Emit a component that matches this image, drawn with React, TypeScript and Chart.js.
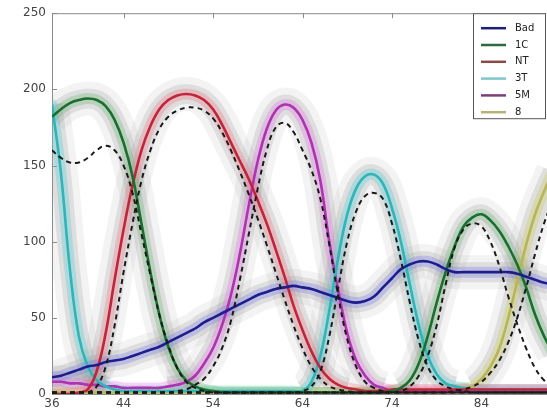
import { useEffect, useRef } from "react";
import { Chart, registerables } from "chart.js";

Chart.register(...registerables);

// sample positions along the horizontal axis
const xs = [
  36, 37, 38, 39, 40, 41, 42, 43, 44, 45,
  46, 47, 48, 49, 50, 51, 52, 53, 54, 55,
  56, 57, 58, 59, 60, 61, 62, 63, 64, 65,
  66, 67, 68, 69, 70, 71, 72, 73, 74, 75,
  76, 77, 78, 79, 80, 81, 82, 83, 84, 85,
  86, 87, 88, 89, 90, 91, 92,
];

const xTicks = [36, 44, 54, 64, 74, 84];
const yTicks = [0, 50, 100, 150, 200, 250];

const seriesNames = ["Bad", "1C", "NT", "3T", "5M", "8"];

const bad = [
  11, 12, 14, 16, 18, 19, 21, 22, 23, 25,
  27, 29, 31, 34, 37, 40, 43, 47, 50, 53,
  56, 59, 62, 65, 67, 69, 70, 71, 70, 69,
  67, 65, 63, 61, 60, 61, 64, 70, 76, 82,
  85, 87, 87, 85, 82, 80, 80, 80, 80, 80,
  80, 80, 79, 77, 75, 73, 72,
];
const c1 = [
  182, 187, 191, 193, 194, 193, 189, 180, 165, 143,
  112, 80, 52, 31, 17, 9, 5, 3, 2, 1,
  1, 1, 1, 1, 1, 1, 1, 1, 1, 1,
  1, 1, 1, 1, 1, 1, 1, 1, 2, 4,
  9, 20, 38, 60, 80, 97, 110, 116, 118, 114,
  107, 97, 85, 70, 52, 38, 27,
];
const nt = [
  0, 0, 0, 1, 3, 15, 40, 75, 108, 137,
  160, 176, 187, 193, 196, 197, 196, 193, 187, 177,
  165, 153, 141, 127, 112, 95, 77, 58, 42, 28,
  17, 10, 6, 4, 3, 2, 2, 2, 3, 3,
  3, 3, 3, 3, 3, 3, 3, 3, 3, 3,
  3, 3, 3, 3, 3, 3, 3,
];
const t3 = [
  190, 145, 82, 38, 18, 9, 5, 3, 2, 2,
  2, 2, 2, 2, 2, 2, 2, 2, 2, 2,
  2, 2, 2, 2, 2, 2, 2, 2, 2, 8,
  25, 55, 90, 118, 135, 143, 144, 138, 122, 100,
  72, 45, 25, 13, 7, 5, 4, 3, 3, 3,
  3, 3, 3, 3, 3, 3, 3,
];
const m5 = [
  8, 8, 7, 7, 6, 6, 5, 5, 4, 4,
  4, 4, 4, 5, 6, 8, 12, 20, 30, 45,
  65, 92, 124, 153, 174, 186, 190, 188, 180, 165,
  140, 100, 68, 40, 22, 12, 6, 4, 2, 2,
  2, 2, 2, 2, 2, 2, 2, 2, 2, 2,
  2, 2, 2, 2, 2, 2, 2,
];
const e8 = [
  1, 1, 1, 1, 1, 1, 1, 1, 1, 1,
  1, 1, 1, 1, 1, 1, 1, 1, 1, 1,
  1, 1, 1, 1, 1, 1, 1, 1, 1, 1,
  1, 1, 1, 1, 1, 1, 1, 1, 1, 1,
  1, 1, 1, 1, 2, 3, 4, 5, 10, 18,
  30, 50, 74, 98, 118, 133, 146,
];

// fitted reference curves, dashed
const fit1 = [
  160, 155, 152, 152, 155, 160, 163, 160, 150, 132,
  105, 78, 52, 32, 17, 8, 4, 2, 1, 1,
  1, 1, 1, 1, 1, 1, 1, 1, 1, 1,
  1, 1, 1, 1, 1, 1, 1, 1, 1, 1,
  1, 1, 1, 1, 1, 1, 1, 1, 1, 1,
  1, 1, 1, 1, 1, 1, 1,
];
const fit2 = [
  0, 0, 0, 0, 1, 5, 18, 45, 80, 112,
  140, 160, 174, 182, 186, 188, 188, 186, 181, 172,
  160, 146, 131, 115, 98, 80, 62, 45, 30, 18,
  10, 5, 3, 2, 1, 1, 1, 1, 1, 1,
  1, 1, 1, 1, 1, 1, 1, 1, 1, 1,
  1, 1, 1, 1, 1, 1, 1,
];
const fit3 = [
  1, 1, 1, 1, 1, 1, 1, 1, 1, 1,
  1, 1, 1, 1, 2, 3, 6, 10, 18, 30,
  48, 75, 105, 135, 160, 175, 178, 172, 160, 147,
  128, 98, 64, 36, 18, 8, 4, 2, 1, 1,
  1, 1, 1, 1, 1, 1, 1, 1, 1, 1,
  1, 1, 1, 1, 1, 1, 1,
];
const fit4 = [
  1, 1, 1, 1, 1, 1, 1, 1, 1, 1,
  1, 1, 1, 1, 1, 1, 1, 1, 1, 1,
  1, 1, 1, 1, 1, 1, 1, 1, 2, 5,
  15, 38, 70, 100, 120, 130, 132, 128, 112, 88,
  60, 35, 18, 9, 5, 3, 2, 1, 1, 1,
  1, 1, 1, 1, 1, 1, 1,
];
const fit5 = [
  1, 1, 1, 1, 1, 1, 1, 1, 1, 1,
  1, 1, 1, 1, 1, 1, 1, 1, 1, 1,
  1, 1, 1, 1, 1, 1, 1, 1, 1, 1,
  1, 1, 1, 1, 1, 1, 1, 1, 1, 2,
  5, 12, 25, 45, 72, 96, 108, 112, 110, 100,
  84, 64, 46, 30, 17, 9, 5,
];
const fit6 = [
  1, 1, 1, 1, 1, 1, 1, 1, 1, 1,
  1, 1, 1, 1, 1, 1, 1, 1, 1, 1,
  1, 1, 1, 1, 1, 1, 1, 1, 1, 1,
  1, 1, 1, 1, 1, 1, 1, 1, 1, 1,
  1, 1, 1, 1, 1, 2, 3, 5, 8, 14,
  22, 34, 50, 70, 92, 112, 128,
];

const seriesValues = [bad, c1, nt, t3, m5, e8];
const fitValues = [fit1, fit2, fit3, fit4, fit5, fit6];

const lineColors = ["#1d1d8c", "#1a6e2e", "#c0253a", "#2fb4ba", "#ae33b0", "#b7b656"];
const bandColors = [
  "rgba(120,120,235,0.33)",
  "rgba(90,175,100,0.28)",
  "rgba(240,100,120,0.28)",
  "rgba(90,205,210,0.36)",
  "rgba(225,110,225,0.30)",
  "rgba(205,205,110,0.40)",
];
const legendLineColors = ["#1d1d7a", "#2d6b3a", "#8a4a45", "#7fc7c9", "#7a3f7a", "#b4b47a"];
const hazeColor = "rgba(150,150,150,0.22)";
const outerHazeColor = "rgba(160,160,160,0.12)";

const W = 556;
const H = 413;

const toPoints = (vals: number[]) => xs.map((x, i) => ({ x, y: vals[i] }));

// grey spread of the individual traces is hidden where a curve lies on the baseline
const hazeSegment = (color: string) => ({
  borderColor: (ctx: any) =>
    ctx.p0.parsed.y < 6 && ctx.p1.parsed.y < 6 ? "rgba(0,0,0,0)" : color,
});

const frameAndLegend = {
  id: "frameAndLegend",
  beforeDatasetsDraw(chart: any) {
    const { ctx, chartArea: a, scales } = chart;
    ctx.save();
    ctx.strokeStyle = "#8a8a8a";
    ctx.lineWidth = 1;
    ctx.strokeRect(a.left + 0.5, a.top + 0.5, a.right - a.left, a.bottom - a.top);
    ctx.beginPath();
    for (const v of xTicks) {
      const px = Math.round(scales.x.getPixelForValue(v)) + 0.5;
      ctx.moveTo(px, a.bottom);
      ctx.lineTo(px, a.bottom - 5);
      ctx.moveTo(px, a.top);
      ctx.lineTo(px, a.top + 5);
    }
    for (const v of yTicks) {
      const py = Math.round(scales.y.getPixelForValue(v)) + 0.5;
      ctx.moveTo(a.left, py);
      ctx.lineTo(a.left + 5, py);
    }
    ctx.stroke();
    ctx.restore();
  },
  afterDraw(chart: any) {
    const { ctx, chartArea: a } = chart;
    const bx = 473;
    const by = a.top;
    ctx.save();
    ctx.fillStyle = "#ffffff";
    ctx.fillRect(bx, by, 90, 105);
    ctx.strokeStyle = "#555555";
    ctx.lineWidth = 1;
    ctx.strokeRect(bx + 0.5, by + 0.5, 72, 105);
    ctx.font = "10px 'DejaVu Sans', sans-serif";
    ctx.textBaseline = "middle";
    ctx.textAlign = "left";
    seriesNames.forEach((name, i) => {
      const y = by + 15 + i * 16.8;
      ctx.strokeStyle = legendLineColors[i];
      ctx.lineWidth = 2.5;
      ctx.beginPath();
      ctx.moveTo(481, y);
      ctx.lineTo(506, y);
      ctx.stroke();
      ctx.fillStyle = "#222222";
      ctx.fillText(name, 515, y);
    });
    ctx.restore();
  },
};

export default function App() {
  const canvasRef = useRef<HTMLCanvasElement | null>(null);

  useEffect(() => {
    const canvas = canvasRef.current;
    if (!canvas) return;

    const datasets: any[] = [];
    // dark fitted lines on top
    fitValues.forEach((vals) => {
      datasets.push({
        data: toPoints(vals),
        borderColor: "#1a1a1a",
        borderWidth: 2,
        borderDash: [5, 4],
        pointRadius: 0,
        tension: 0.4,
        order: 0,
      });
    });
    seriesValues.forEach((vals, i) => {
      datasets.push({
        data: toPoints(vals),
        borderColor: lineColors[i],
        borderWidth: 2.6,
        pointRadius: 0,
        tension: 0.4,
        order: 1,
      });
    });
    seriesValues.forEach((vals, i) => {
      datasets.push({
        data: toPoints(vals),
        borderColor: bandColors[i],
        borderWidth: 11,
        pointRadius: 0,
        tension: 0.4,
        borderJoinStyle: "round",
        borderCapStyle: "round",
        order: 2,
      });
    });
    seriesValues.forEach((vals) => {
      datasets.push({
        data: toPoints(vals),
        borderColor: hazeColor,
        segment: hazeSegment(hazeColor),
        borderWidth: 20,
        pointRadius: 0,
        tension: 0.4,
        borderJoinStyle: "round",
        order: 3,
      });
    });
    seriesValues.forEach((vals) => {
      datasets.push({
        data: toPoints(vals),
        borderColor: outerHazeColor,
        segment: hazeSegment(outerHazeColor),
        borderWidth: 34,
        pointRadius: 0,
        tension: 0.4,
        borderJoinStyle: "round",
        order: 4,
      });
    });

    const chart = new Chart(canvas, {
      type: "line",
      data: { datasets },
      options: {
        responsive: false,
        animation: false,
        devicePixelRatio: 1,
        layout: { padding: { top: 12, right: 3, left: 0, bottom: 0 } },
        plugins: { legend: { display: false }, tooltip: { enabled: false } },
        scales: {
          x: {
            type: "linear",
            min: 36,
            max: 92,
            grid: { display: false, drawTicks: false },
            border: { display: false },
            afterBuildTicks: (axis: any) => {
              axis.ticks = xTicks.map((v) => ({ value: v }));
            },
            afterFit: (axis: any) => {
              axis.height = 19;
            },
            ticks: {
              autoSkip: false,
              maxRotation: 0,
              padding: 3,
              color: "#444444",
              font: { family: "'DejaVu Sans', sans-serif", size: 12 },
            },
          },
          y: {
            min: 0,
            max: 250,
            grid: { display: false, drawTicks: false },
            border: { display: false },
            afterBuildTicks: (axis: any) => {
              axis.ticks = yTicks.map((v) => ({ value: v }));
            },
            afterFit: (axis: any) => {
              axis.width = 52;
            },
            ticks: {
              padding: 6,
              color: "#444444",
              font: { family: "'DejaVu Sans', sans-serif", size: 12 },
            },
          },
        },
      },
      plugins: [frameAndLegend],
    });

    return () => chart.destroy();
  }, []);

  return (
    <div
      style={{
        position: "fixed",
        left: 0,
        top: 0,
        width: 547,
        height: H,
        overflow: "hidden",
        background: "#ffffff",
      }}
    >
      <canvas ref={canvasRef} width={W} height={H} style={{ display: "block", width: W, height: H }} />
    </div>
  );
}
